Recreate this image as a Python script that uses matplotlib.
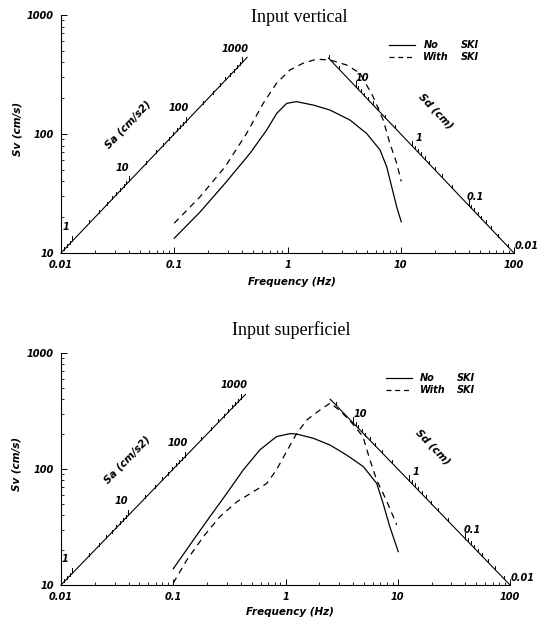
import numpy as np
import matplotlib
matplotlib.use("Agg")
import matplotlib.pyplot as plt
from matplotlib.ticker import FuncFormatter, LogLocator, NullFormatter

# spectra, input vertical
freq_v_no = [0.1, 0.169, 0.281, 0.467, 0.655, 0.803, 0.984, 1.2, 1.69, 2.37, 3.56, 5.0, 6.56, 7.52, 8.32, 9.2, 10.1]
sv_v_no = [13.3, 22.1, 38.5, 68.9, 108, 149, 181, 187, 175, 159, 131, 101, 73.5, 53, 36, 24.5, 18.3]
freq_v_ski = [0.1, 0.169, 0.281, 0.435, 0.61, 0.8, 1.05, 1.37, 1.8, 2.37, 3.33, 4.37, 5.7, 7.0, 8.0, 9.2, 10.1]
sv_v_ski = [17.8, 29.7, 53, 101, 181, 267, 345, 393, 425, 419, 380, 324, 206, 131, 84, 57, 40]

# spectra, input superficiel
freq_s_no = [0.1, 0.151, 0.212, 0.30, 0.42, 0.59, 0.83, 1.1, 1.26, 1.77, 2.49, 3.5, 4.93, 6.5, 7.4, 8.5, 10.1]
sv_s_no = [13.8, 24.4, 38.8, 61.7, 98, 146, 190, 202, 200, 184, 161, 132, 105, 75, 50.6, 31.8, 19.4]
freq_s_ski = [0.1, 0.132, 0.185, 0.26, 0.367, 0.52, 0.68, 0.83, 1.02, 1.26, 1.55, 2.03, 2.5, 3.1, 3.9, 4.9, 5.65, 6.5, 7.9, 9.8]
sv_s_ski = [10.4, 16.4, 26, 38.8, 52, 64, 75, 98, 141, 203, 265, 323, 370, 315, 250, 190, 120, 80, 54, 33]

titles = ["Input vertical", "Input superficiel"]
freq_ticks = [0.01, 0.1, 1, 10, 100]
sv_ticks = [10, 100, 1000]
sa_labels = [1, 10, 100, 1000]
sd_labels = [10, 1, 0.1]

tick_font = dict(fontsize=7, fontstyle="italic", fontweight="bold", family="DejaVu Sans")
lab_font = dict(fontsize=7.5, fontstyle="italic", fontweight="bold", family="DejaVu Sans")


def fmt(v, pos=None):
    return ("%g" % v)


def diag_ticks(ax, freqs, svs, kinds):
    for f, sv, major in zip(freqs, svs, kinds):
        d = 0.045 if major else 0.025
        ax.plot([f, f], [sv, sv * 10 ** d], color="k", lw=0.7, clip_on=False)


def sa_axis(ax, f_end):
    # Sa diagonal through (0.01 Hz, 10 cm/s): Sv = 1000 f, Sa = 2 pi f Sv
    f = np.array([0.01, f_end])
    ax.plot(f, 1000 * f, color="k", lw=0.8, clip_on=False)
    fs, svs, kinds = [], [], []
    for e in range(-1, 4):
        for k in range(1, 10):
            sa = k * 10.0 ** e
            ft = np.sqrt(sa / (2 * np.pi * 1000))
            if 0.01 <= ft <= f_end:
                fs.append(ft)
                svs.append(1000 * ft)
                kinds.append(k == 1)
    diag_ticks(ax, fs, svs, kinds)
    for sa in sa_labels:
        ft = np.sqrt(sa / (2 * np.pi * 1000))
        ax.annotate(fmt(sa), (ft, 1000 * ft), xytext=(-5, 10), textcoords="offset points",
                    ha="center", va="center", annotation_clip=False, **tick_font)


def sd_axis(ax, f_start):
    # Sd diagonal through (100 Hz, 10 cm/s): Sv = 1000 / f, Sd = Sv / (2 pi f)
    f = np.array([f_start, 100])
    ax.plot(f, 1000 / f, color="k", lw=0.8, clip_on=False)
    fs, svs, kinds = [], [], []
    for e in range(-2, 3):
        for k in range(1, 10):
            sd = k * 10.0 ** e
            ft = np.sqrt(1000 / (2 * np.pi * sd))
            if f_start <= ft <= 100:
                fs.append(ft)
                svs.append(1000 / ft)
                kinds.append(k == 1)
    diag_ticks(ax, fs, svs, kinds)
    for sd in sd_labels:
        ft = np.sqrt(1000 / (2 * np.pi * sd))
        ax.annotate(fmt(sd), (ft, 1000 / ft), xytext=(5, 6), textcoords="offset points",
                    ha="center", va="center", annotation_clip=False, **tick_font)
    ax.annotate("0.01", (100, 10), xytext=(9, 5), textcoords="offset points",
                ha="center", va="center", annotation_clip=False, **tick_font)


def panel(ax, f_no, sv_no, f_ski, sv_ski, sd_start, leg_y, xlab_y, ylab_x):
    ax.set_xscale("log")
    ax.set_yscale("log")
    ax.set_xlim(0.01, 100)
    ax.set_ylim(10, 1000)
    for s in ["top", "right"]:
        ax.spines[s].set_visible(False)
    for s in ["left", "bottom"]:
        ax.spines[s].set_linewidth(0.8)
    ax.xaxis.set_minor_locator(LogLocator(base=10, subs=range(2, 10), numticks=20))
    ax.yaxis.set_minor_locator(LogLocator(base=10, subs=range(2, 10), numticks=20))
    ax.set_xticks(freq_ticks)
    ax.set_yticks(sv_ticks)
    ax.xaxis.set_major_formatter(FuncFormatter(fmt))
    ax.yaxis.set_major_formatter(FuncFormatter(fmt))
    ax.xaxis.set_minor_formatter(NullFormatter())
    ax.yaxis.set_minor_formatter(NullFormatter())
    ax.tick_params(which="major", direction="in", length=4, width=0.7, pad=5)
    ax.tick_params(which="minor", direction="in", length=2.2, width=0.6)
    for lab in ax.get_xticklabels() + ax.get_yticklabels():
        lab.set_fontsize(7)
        lab.set_fontstyle("italic")
        lab.set_fontweight("bold")

    ax.set_xlabel("Frequency (Hz)", **lab_font)
    ax.set_ylabel("Sv (cm/s)", **lab_font)
    ax.xaxis.set_label_coords(0.51, xlab_y)
    ax.yaxis.set_label_coords(ylab_x, 0.52)

    sa_axis(ax, 0.44)
    sd_axis(ax, sd_start)

    # angle of a unit-slope line on screen
    p0 = ax.transData.transform((1, 10))
    p1 = ax.transData.transform((10, 100))
    ang = np.degrees(np.arctan2(p1[1] - p0[1], p1[0] - p0[0]))
    ax.text(0.039, 120, "Sa (cm/s2)", rotation=ang, ha="center", va="center",
            rotation_mode="anchor", **lab_font)
    ax.text(20.5, 155, "Sd (cm)", rotation=-ang, ha="center", va="center",
            rotation_mode="anchor", **lab_font)

    ax.plot(f_no, sv_no, color="k", lw=0.9)
    ax.plot(f_ski, sv_ski, color="k", lw=0.9, dashes=(5, 4))

    # legend
    ax.plot([0.724, 0.781], [leg_y, leg_y], color="k", lw=0.9, transform=ax.transAxes)
    ax.plot([0.724, 0.781], [leg_y - 0.05, leg_y - 0.05], color="k", lw=0.9,
            dashes=(4, 3), transform=ax.transAxes)
    ax.text(0.80, leg_y, "No", transform=ax.transAxes, va="center", **tick_font)
    ax.text(0.80, leg_y - 0.05, "With", transform=ax.transAxes, va="center", **tick_font)
    ax.text(0.882, leg_y, "SKI", transform=ax.transAxes, va="center", **tick_font)
    ax.text(0.882, leg_y - 0.05, "SKI", transform=ax.transAxes, va="center", **tick_font)


fig = plt.figure(figsize=(5.44, 6.22), dpi=100)
ax1 = fig.add_axes([61 / 544, 1 - 253 / 622, 453 / 544, 238 / 622])
ax2 = fig.add_axes([61 / 544, 1 - 585 / 622, 449 / 544, 232 / 622])

panel(ax1, freq_v_no, sv_v_no, freq_v_ski, sv_v_ski, 2.3, 0.874, -0.10, -0.086)
panel(ax2, freq_s_no, sv_s_no, freq_s_ski, sv_s_ski, 2.5, 0.892, -0.095, -0.087)

fig.text(299 / 544, 1 - 18 / 622, titles[0], ha="center", va="center",
         family="Liberation Serif", fontsize=13)
fig.text(291 / 544, 1 - 330 / 622, titles[1], ha="center", va="center",
         family="Liberation Serif", fontsize=13)

fig.savefig("out.png", dpi=100)
